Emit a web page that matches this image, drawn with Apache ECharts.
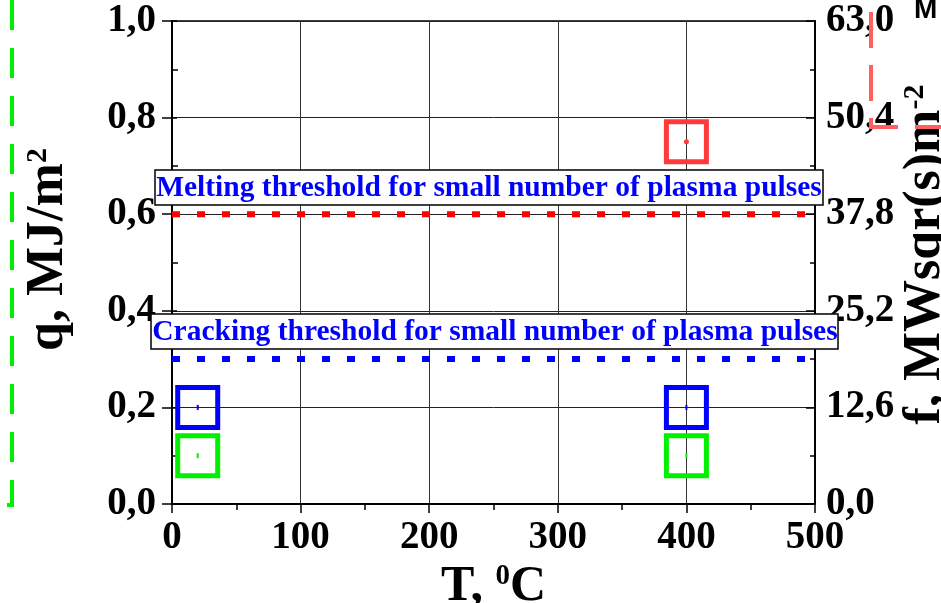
<!DOCTYPE html>
<html>
<head>
<meta charset="utf-8">
<script src="https://cdn.jsdelivr.net/npm/echarts@6/dist/echarts.min.js"></script>
<style>
html,body{margin:0;padding:0;background:#fff;}
#c{width:941px;height:603px;}
</style>
</head>
<body>
<div id="c"></div>
<script>
// ---- data ----
var xTicks = [0, 100, 200, 300, 400, 500];
var leftTickLabels = ['0,0', '0,2', '0,4', '0,6', '0,8', '1,0'];
var rightTickLabels = ['0,0', '12,6', '25,2', '37,8', '50,4', '63,0'];
var redPoints = [[400, 0.75]];
var bluePoints = [[20, 0.2], [400, 0.2]];
var greenPoints = [[20, 0.1], [400, 0.1]];
var meltingThreshold = 0.6;
var crackingThreshold = 0.3;
var meltingText = 'Melting threshold for small number of plasma pulses';
var crackingText = 'Cracking threshold for small number of plasma pulses';

var FONT = '"Liberation Serif", "Times New Roman", serif';
var chart = echarts.init(document.getElementById('c'));

function sq(name, data, color, dot) {
  return [{
    name: name, type: 'scatter', data: data, symbol: 'rect', symbolSize: 40,
    itemStyle: { color: 'rgba(0,0,0,0)', borderColor: color, borderWidth: 5, opacity: 1 },
    z: 5, silent: true
  }, {
    name: name + 'c', type: 'scatter', data: data, symbol: dot ? 'circle' : 'rect', symbolSize: dot ? 5 : [2, 5],
    itemStyle: { color: color, opacity: 1 }, z: 6, silent: true
  }];
}

var series = [].concat(
  sq('red', redPoints, '#ff3a3a', true),
  sq('blue', bluePoints, '#0000ff', false),
  sq('green', greenPoints, '#00f000', false),
  [{
    type: 'line', data: [[0, meltingThreshold], [500, meltingThreshold]], symbol: 'none',
    lineStyle: { color: '#ff0000', width: 6, type: [8, 17], cap: 'butt' }, z: 4, silent: true
  }, {
    type: 'line', data: [[0, crackingThreshold], [500, crackingThreshold]], symbol: 'none',
    lineStyle: { color: '#0000ff', width: 6, type: [8, 17], cap: 'butt' }, z: 4, silent: true
  }]
);

var axisLabelStyle = { fontFamily: FONT, fontWeight: 'bold', fontSize: 39, color: '#000' };

var option = {
  animation: false,
  grid: { left: 172, right: 126, top: 21, bottom: 99, outerBoundsMode: 'none', containLabel: false,
          show: true, borderColor: '#000', borderWidth: 1.5 },
  xAxis: {
    type: 'value', min: 0, max: 500, interval: 100,
    axisLine: { show: true, lineStyle: { color: '#000', width: 2 } },
    axisTick: { show: true, length: 9, lineStyle: { color: '#000', width: 1.5 } },
    minorTick: { show: true, splitNumber: 2, length: 6, lineStyle: { color: '#000', width: 1.5 } },
    splitLine: { show: true, lineStyle: { color: '#333', width: 1 } },
    axisLabel: Object.assign({ margin: 14 }, axisLabelStyle),
    name: '{a|T, }{s|0}{a|C}', nameLocation: 'middle', nameGap: 58,
    nameTextStyle: {
      rich: {
        a: { fontFamily: FONT, fontWeight: 'bold', fontSize: 50, color: '#000' },
        s: { fontFamily: FONT, fontWeight: 'bold', fontSize: 29, color: '#000', verticalAlign: 'top', padding: [0, 0, 18, 0] }
      }
    }
  },
  yAxis: [{
    type: 'value', min: 0, max: 1, interval: 0.2,
    axisLine: { show: true, lineStyle: { color: '#000', width: 2 } },
    axisTick: { show: true, length: 10, lineStyle: { color: '#000', width: 1.5 } },
    minorTick: { show: false },
    splitLine: { show: true, lineStyle: { color: '#222', width: 1 } },
    axisLabel: Object.assign({ margin: 16, formatter: function (v) { return leftTickLabels[Math.round(v / 0.2)]; } }, axisLabelStyle),
    name: '{a|q, MJ/m}{s|2}', nameLocation: 'middle', nameGap: 97, nameRotate: 90,
    nameTextStyle: {
      padding: [0, 0, 0, 26],
      rich: {
        a: { fontFamily: FONT, fontWeight: 'bold', fontSize: 52, color: '#000' },
        s: { fontFamily: FONT, fontWeight: 'bold', fontSize: 30, color: '#000', verticalAlign: 'top', padding: [0, 0, 22, 0] }
      }
    }
  }, {
    type: 'value', min: 0, max: 63, interval: 12.6,
    axisLine: { show: true, lineStyle: { color: '#000', width: 2 } },
    axisTick: { show: true, inside: true, length: 9, lineStyle: { color: '#000', width: 1.5 } },
    minorTick: { show: true, splitNumber: 2, length: 5, lineStyle: { color: '#000', width: 1.5 } },
    splitLine: { show: false },
    axisLabel: Object.assign({ margin: 11, formatter: function (v) { return rightTickLabels[Math.round(v / 12.6)]; } }, axisLabelStyle),
    name: '{a|f, MWsqr(s)m}{s|-2}', nameLocation: 'middle', nameGap: 85, nameRotate: 90,
    nameMoveOverlap: false,
    nameTextStyle: {
      padding: [0, 0, 0, 16],
      rich: {
        a: { fontFamily: FONT, fontWeight: 'bold', fontSize: 52, color: '#000' },
        s: { fontFamily: FONT, fontWeight: 'bold', fontSize: 30, color: '#000', verticalAlign: 'top', padding: [0, 0, 22, 0] }
      }
    }
  }, {
    // inner half of the left axis ticks (major ticks cross the axis, minor ticks point inward)
    type: 'value', position: 'left', offset: 0, min: 0, max: 1, interval: 0.2,
    axisLine: { show: false },
    axisTick: { show: true, inside: true, length: 5, lineStyle: { color: '#000', width: 1.5 } },
    minorTick: { show: true, splitNumber: 2, length: 6, lineStyle: { color: '#000', width: 1.5 } },
    splitLine: { show: false },
    axisLabel: { show: false }
  }],
  series: series,
  graphic: [
    { type: 'rect', shape: { x: 155, y: 170, width: 668, height: 35 }, style: { fill: '#fff', stroke: '#000', lineWidth: 1.5 }, z: 20 },
    { type: 'text', x: 489, y: 188, style: { text: meltingText, fill: '#0000ff', fontFamily: FONT, fontWeight: 'bold', fontSize: 29.5, align: 'center', verticalAlign: 'middle' }, z: 21 },
    { type: 'rect', shape: { x: 151, y: 314, width: 687, height: 35 }, style: { fill: '#fff', stroke: '#000', lineWidth: 1.5 }, z: 20 },
    { type: 'text', x: 495, y: 332, style: { text: crackingText, fill: '#0000ff', fontFamily: FONT, fontWeight: 'bold', fontSize: 29.5, align: 'center', verticalAlign: 'middle' }, z: 21 },
    // frame fragments of neighbouring layers
    { type: 'polyline', shape: { points: [[12, 0], [12, 505], [0, 505]] }, style: { stroke: '#00ee00', lineWidth: 4, fill: null, lineDash: [30, 18] }, z: 1 },
    { type: 'polyline', shape: { points: [[871, 12], [871, 127], [941, 127]] }, style: { stroke: '#ff5f5f', lineWidth: 4, fill: null, lineDash: [36, 17] }, z: 1 },
    { type: 'text', x: 914, y: 10, style: { text: 'M', fill: '#000', fontFamily: '"Liberation Sans", Arial, sans-serif', fontWeight: 'bold', fontSize: 28, verticalAlign: 'middle', align: 'left' }, z: 21 }
  ]
};
chart.setOption(option);
</script>
</body>
</html>
